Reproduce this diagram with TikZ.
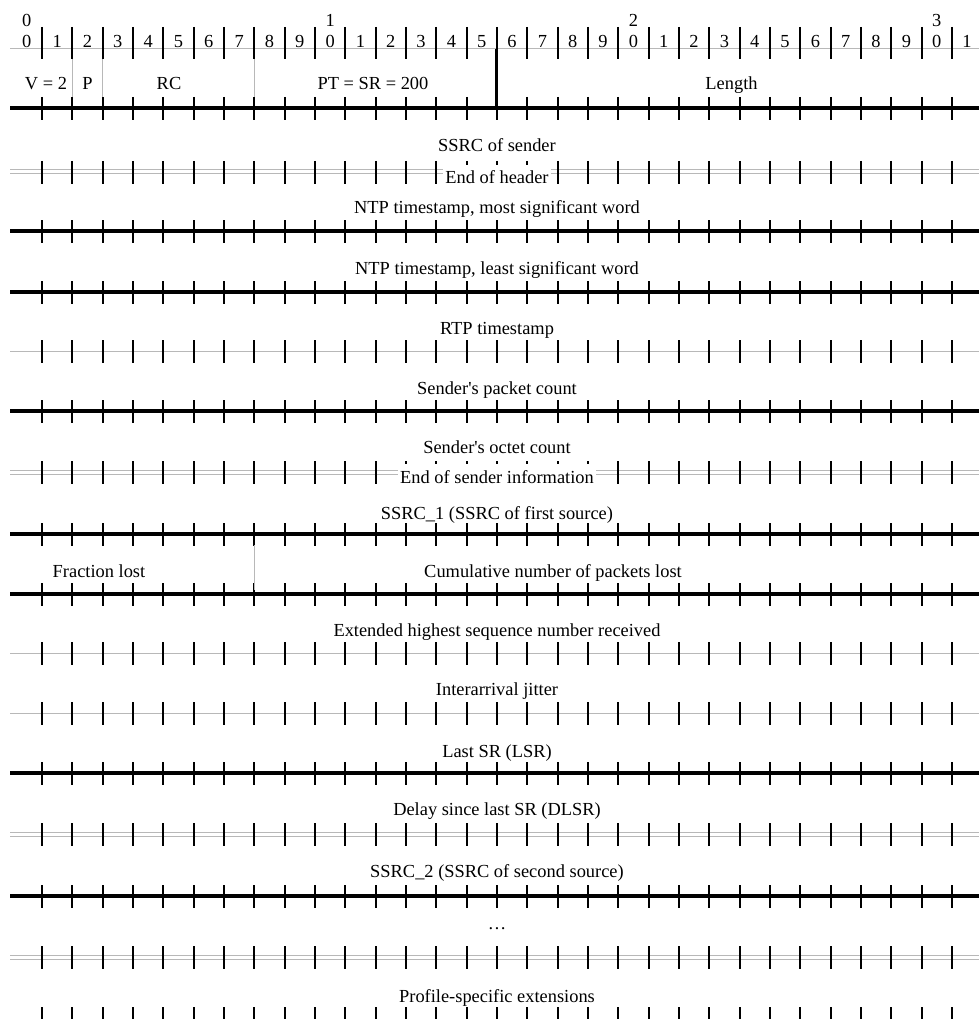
\documentclass[tikz,border=0pt]{standalone}
\usepackage{fontspec}
\setmainfont{Liberation Serif}
\begin{document}
\begin{tikzpicture}[x=1pt,y=-1pt,
  lbl/.style={font=\fontsize{18.4}{22}\selectfont, inner sep=0pt, anchor=base},
  thickrule/.style={line width=4pt, black},
  thinrule/.style={line width=1pt, black!28},
  doublerule/.style={line width=1pt, black!28, double=white, double distance=3pt},
  bittick/.style={line width=2pt, black},
  fieldsep/.style={line width=1pt, black!28},
  endlbl/.style={lbl, fill=white, text height=13pt, text depth=4pt, inner xsep=2.5pt, inner ysep=6pt}
  ]
\useasboundingbox (0,0) rectangle (979,1019);

% header bit numbers
\draw[thinrule] (10,49) -- (979,49);
\foreach \k in {0,...,31}{
  \pgfmathtruncatemacro\d{mod(\k,10)}
  \node[lbl] (b\k) at ({26.8+30.33*\k},48) {\d};
}
\node[lbl] (d0) at (26.8,27) {0};
\node[lbl] (d1) at ({26.8+30.33*10},27) {1};
\node[lbl] (d2) at ({26.8+30.33*20},27) {2};
\node[lbl] (d3) at ({26.8+30.33*30},27) {3};
\foreach \t in {0,...,30}
  \draw[bittick] ({42+30.33*\t},27) -- ({42+30.33*\t},59);

% separators between rows
\foreach \y/\s in {108/thickrule,172/doublerule,231/thickrule,292/thickrule,351/thinrule,
                   411/thickrule,472/doublerule,534/thickrule,594/thickrule,653/thinrule,
                   713/thinrule,773/thickrule,834/doublerule,896/thickrule,957/doublerule}{
  \draw[\s] (10,\y) -- (979,\y);
}
\foreach \y in {108,172,231,292,351,411,472,534,594,653,713,773,834,896,957,1018}{
  \foreach \t in {0,...,30}
    \draw[bittick] ({42+30.33*\t},\y-11) -- ({42+30.33*\t},\y+12);
}

% field separators in first word
\draw[fieldsep] ({42+30.33*1},59) -- ({42+30.33*1},97);
\draw[fieldsep] ({42+30.33*2},59) -- ({42+30.33*2},97);
\draw[fieldsep] ({42+30.33*7},59) -- ({42+30.33*7},97);
\draw[line width=3pt] ({42+30.33*15},49) -- ({42+30.33*15},108);
\draw[fieldsep] ({42+30.33*7},545) -- ({42+30.33*7},590);

% field labels
\node[lbl] (v) at (46,90) {V = 2};
\node[lbl] (p) at (87.5,90) {P};
\node[lbl] (rc) at (169,90) {RC};
\node[lbl] (pt) at (373,90) {PT = SR = 200};
\node[lbl] (len) at (731.5,90) {Length};

\node[lbl] (ssrc) at (497,151.5) {SSRC of sender};
\node[endlbl] (eoh) at (497,184) {End of header};
\node[lbl] (ntpm) at (497,213) {NTP timestamp, most significant word};
\node[lbl] (ntpl) at (497,274) {NTP timestamp, least significant word};
\node[lbl] (rtp) at (497,334) {RTP timestamp};
\node[lbl] (spc) at (497,394) {Sender\textquotesingle s packet count};
\node[lbl] (soc) at (497,453) {Sender\textquotesingle s octet count};
\node[endlbl] (eosi) at (497,483) {End of sender information};
\node[lbl] (ssrc1) at (497,519) {SSRC\_1 (SSRC of first source)};
\node[lbl] (frac) at (99,577) {Fraction lost};
\node[lbl] (cum) at (553,577) {Cumulative number of packets lost};
\node[lbl] (ext) at (497,636) {Extended highest sequence number received};
\node[lbl] (jit) at (497,695) {Interarrival jitter};
\node[lbl] (lsr) at (497,757) {Last SR (LSR)};
\node[lbl] (dlsr) at (497,815) {Delay since last SR (DLSR)};
\node[lbl] (ssrc2) at (497,877) {SSRC\_2 (SSRC of second source)};
\node[lbl] (dots) at (497,929) {\ldots};
\node[lbl] (prof) at (497,1002) {Profile-specific extensions};
\end{tikzpicture}
\end{document}
